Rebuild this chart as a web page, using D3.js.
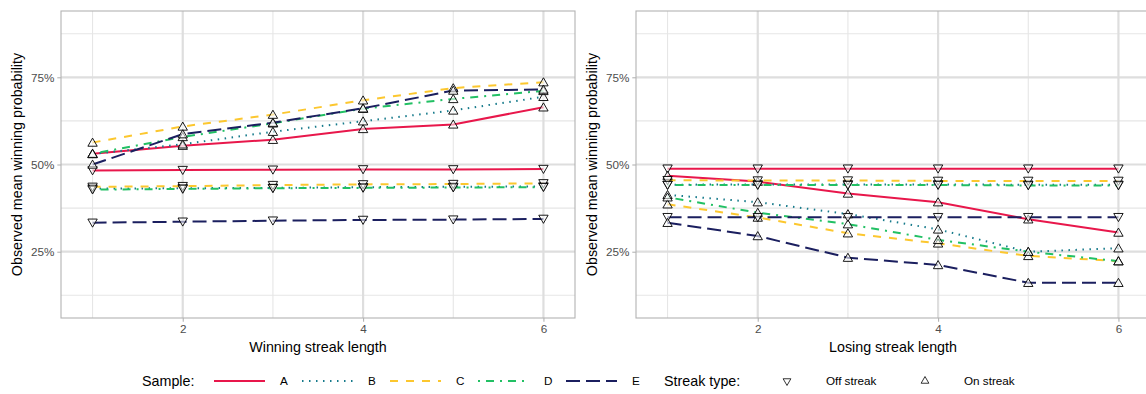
<!DOCTYPE html>
<html>
<head>
<meta charset="utf-8">
<script src="https://cdn.jsdelivr.net/npm/d3@7"></script>
<style>
  html, body { margin: 0; padding: 0; background: #ffffff; }
  svg { display: block; font-family: "Liberation Sans", Arial, Helvetica, sans-serif; }
</style>
</head>
<body>
<svg id="chart" width="1146" height="394"></svg>
<script>
// ---- data ----
const streakLengths = [1, 2, 3, 4, 5, 6];
const samples = ["A", "B", "C", "D", "E"];
const streakTypes = ["Off streak", "On streak"];
const xTicks = [2, 4, 6];
const yTicks = [0.25, 0.5, 0.75];
const yTickLabels = ["25%", "50%", "75%"];

// winning streaks: probability of winning the next game
const winOnA = [0.531, 0.554, 0.571, 0.602, 0.615, 0.664];
const winOnB = [0.530, 0.558, 0.594, 0.624, 0.655, 0.694];
const winOnC = [0.563, 0.609, 0.643, 0.684, 0.719, 0.736];
const winOnD = [0.531, 0.579, 0.618, 0.660, 0.688, 0.711];
const winOnE = [0.500, 0.587, 0.620, 0.661, 0.712, 0.715];
const winOffA = [0.483, 0.484, 0.485, 0.486, 0.486, 0.487];
const winOffB = [0.431, 0.432, 0.433, 0.435, 0.436, 0.437];
const winOffC = [0.436, 0.438, 0.441, 0.443, 0.444, 0.446];
const winOffD = [0.428, 0.430, 0.432, 0.433, 0.434, 0.435];
const winOffE = [0.333, 0.336, 0.339, 0.341, 0.342, 0.344];

// losing streaks
const loseOnA = [0.468, 0.451, 0.417, 0.392, 0.343, 0.305];
const loseOnB = [0.413, 0.392, 0.358, 0.314, 0.250, 0.260];
const loseOnC = [0.386, 0.348, 0.303, 0.274, 0.238, 0.223];
const loseOnD = [0.406, 0.362, 0.329, 0.284, 0.250, 0.223];
const loseOnE = [0.333, 0.295, 0.233, 0.212, 0.161, 0.161];
const loseOffA = [0.488, 0.488, 0.488, 0.488, 0.488, 0.488];
const loseOffB = [0.442, 0.443, 0.443, 0.443, 0.442, 0.442];
const loseOffC = [0.455, 0.454, 0.454, 0.453, 0.453, 0.453];
const loseOffD = [0.441, 0.441, 0.441, 0.441, 0.440, 0.440];
const loseOffE = [0.349, 0.349, 0.349, 0.349, 0.349, 0.349];

// ---- styling ----
const colors = { A: "#e8174b", B: "#167a8b", C: "#fcc72f", D: "#22c064", E: "#1b1f5f" };
const dashes = { A: null, B: "1.5,5.5", C: "8,8", D: "2,6,8,6", E: "14,6" };
const gridMajor = "#dedede", gridMinor = "#e6e6e6", borderCol = "#b3b3b3";

const svg = d3.select("#chart");

const panels = [
  { left: 61, title: "Winning streak length",
    on: { A: winOnA, B: winOnB, C: winOnC, D: winOnD, E: winOnE },
    off: { A: winOffA, B: winOffB, C: winOffC, D: winOffD, E: winOffE } },
  { left: 636, title: "Losing streak length",
    on: { A: loseOnA, B: loseOnB, C: loseOnC, D: loseOnD, E: loseOnE },
    off: { A: loseOffA, B: loseOffB, C: loseOffC, D: loseOffD, E: loseOffE } }
];

const panelW = 514, panelTop = 11, panelBottom = 318;
const triUp = d3.symbol().type(d3.symbolTriangle).size(38);

panels.forEach(p => {
  const x = d3.scaleLinear().domain([0.65, 6.35]).range([p.left, p.left + panelW]);
  const y = d3.scaleLinear().domain([0.06, 0.94]).range([panelBottom, panelTop]);
  const g = svg.append("g");

  // clip for the panel
  const clipId = "clip" + p.left;
  svg.append("clipPath").attr("id", clipId).append("rect")
    .attr("x", p.left).attr("y", panelTop).attr("width", panelW).attr("height", panelBottom - panelTop);

  // minor grid
  const xMinor = [1, 3, 5], yMinor = [0.125, 0.375, 0.625, 0.875];
  g.selectAll(".xmin").data(xMinor).join("line")
    .attr("x1", d => x(d)).attr("x2", d => x(d)).attr("y1", panelTop).attr("y2", panelBottom)
    .attr("stroke", gridMinor).attr("stroke-width", 1.1);
  g.selectAll(".ymin").data(yMinor).join("line")
    .attr("x1", p.left).attr("x2", p.left + panelW).attr("y1", d => y(d)).attr("y2", d => y(d))
    .attr("stroke", gridMinor).attr("stroke-width", 1.1);
  // major grid
  g.selectAll(".xmaj").data(xTicks).join("line")
    .attr("x1", d => x(d)).attr("x2", d => x(d)).attr("y1", panelTop).attr("y2", panelBottom)
    .attr("stroke", gridMajor).attr("stroke-width", 2.2);
  g.selectAll(".ymaj").data(yTicks).join("line")
    .attr("x1", p.left).attr("x2", p.left + panelW).attr("y1", d => y(d)).attr("y2", d => y(d))
    .attr("stroke", gridMajor).attr("stroke-width", 2.2);

  // axes
  const xAxis = d3.axisBottom(x).tickValues(xTicks).tickSize(3.7).tickPadding(3).tickFormat(d3.format("d"));
  const yAxis = d3.axisLeft(y).tickValues(yTicks).tickSize(3.7).tickPadding(3)
    .tickFormat((d, i) => yTickLabels[i]);
  const gx = svg.append("g").attr("transform", `translate(0,${panelBottom})`).call(xAxis);
  const gy = svg.append("g").attr("transform", `translate(${p.left},0)`).call(yAxis);
  [gx, gy].forEach(a => {
    a.select(".domain").remove();
    a.selectAll(".tick line").attr("stroke", borderCol).attr("stroke-width", 1.1);
    a.selectAll(".tick text").attr("fill", "#4d4d4d").attr("font-size", 11.7)
      .attr("font-family", "Liberation Sans, Arial, sans-serif");
  });

  // data lines
  const line = d3.line().x((d, i) => x(streakLengths[i])).y(d => y(d));
  const dataG = svg.append("g").attr("clip-path", `url(#${clipId})`);
  samples.forEach(s => {
    [p.off[s], p.on[s]].forEach(vals => {
      dataG.append("path").datum(vals).attr("d", line)
        .attr("fill", "none").attr("stroke", colors[s]).attr("stroke-width", 2)
        .attr("stroke-dasharray", dashes[s]);
    });
  });
  // points
  samples.forEach(s => {
    streakTypes.forEach(t => {
      const vals = t === "On streak" ? p.on[s] : p.off[s];
      dataG.selectAll(null).data(vals).join("path")
        .attr("d", triUp)
        .attr("transform", (d, i) => `translate(${x(streakLengths[i])},${y(d) + (t === "On streak" ? 1 : -1)}) rotate(${t === "On streak" ? 0 : 180})`)
        .attr("fill", "#ffffff").attr("fill-opacity", 0.55)
        .attr("stroke", "#000000").attr("stroke-width", 0.9);
    });
  });

  // panel border
  svg.append("rect").attr("x", p.left).attr("y", panelTop).attr("width", panelW).attr("height", panelBottom - panelTop)
    .attr("fill", "none").attr("stroke", borderCol).attr("stroke-width", 1.1);

  // axis titles
  svg.append("text").attr("x", p.left + panelW / 2).attr("y", 352)
    .attr("text-anchor", "middle").attr("font-size", 14.3).attr("fill", "#000")
    .text(p.title);
  svg.append("text")
    .attr("transform", `translate(${p.left - 39},${(panelTop + panelBottom) / 2}) rotate(-90)`)
    .attr("text-anchor", "middle").attr("font-size", 14.3).attr("fill", "#000")
    .text("Observed mean winning probability");
});

// ---- legend ----
const legY = 381;
const leg = svg.append("g");
leg.append("text").attr("x", 142).attr("y", legY + 5).attr("font-size", 14.3).text("Sample:");
samples.forEach((s, i) => {
  const x0 = 214 + i * 88;
  leg.append("line").attr("x1", x0).attr("x2", x0 + 51).attr("y1", legY).attr("y2", legY)
    .attr("stroke", colors[s]).attr("stroke-width", 2).attr("stroke-dasharray", dashes[s]);
  leg.append("text").attr("x", x0 + 66).attr("y", legY + 4).attr("font-size", 11.7).text(s);
});
leg.append("text").attr("x", 664).attr("y", legY + 5).attr("font-size", 14.3).text("Streak type:");
streakTypes.forEach((t, i) => {
  const cx = 787 + i * 138;
  leg.append("path").attr("d", d3.symbol().type(d3.symbolTriangle).size(26))
    .attr("transform", `translate(${cx},${legY}) rotate(${t === "On streak" ? 0 : 180})`)
    .attr("fill", "#fff").attr("stroke", "#000").attr("stroke-width", 0.8);
  leg.append("text").attr("x", cx + 39).attr("y", legY + 4).attr("font-size", 11.7).text(t);
});
</script>
</body>
</html>
